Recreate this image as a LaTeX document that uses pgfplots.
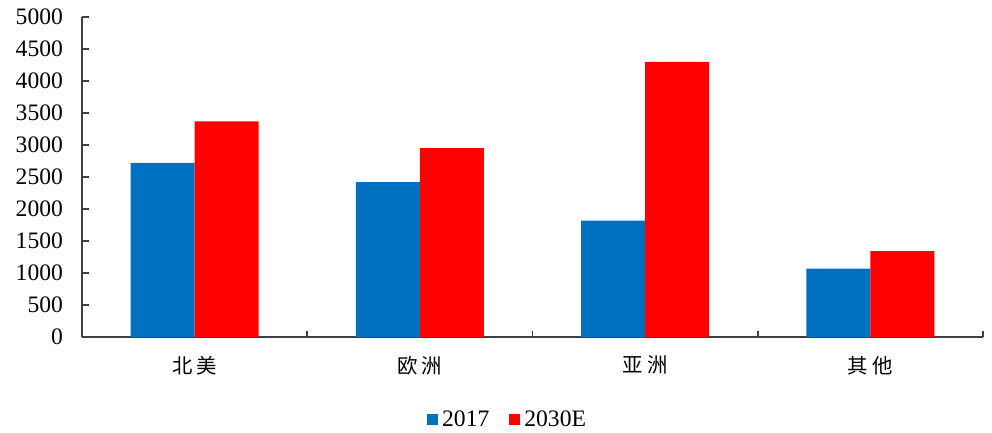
\documentclass[border=0pt]{standalone}
\usepackage{pgfplots}
\pgfplotsset{compat=1.18}
\usepackage{fontspec}
\setmainfont{Liberation Serif}
\newfontfamily\cjk{Noto Sans CJK SC}
\definecolor{cblue}{HTML}{0070C0}
\definecolor{cred}{HTML}{FF0000}
\definecolor{axgray}{HTML}{404040}
\begin{document}
\begin{tikzpicture}
\begin{axis}[
  name=ax,
  scale only axis, width=450.5pt, height=160pt,
  xmin=-0.5, xmax=3.5, ymin=0, ymax=5000,
  ybar=0pt, bar width=0.2844,
  axis x line=bottom, axis y line=left,
  axis line style={-, axgray, line width=0.8pt},
  ytick={0,500,...,5000},
  tick align=inside,
  y tick style={axgray, line width=0.8pt},
  major tick length=3.5pt,
  xtick={0,1,2,3},
  xticklabels={{\cjk 北\hspace{2pt}美},{\cjk 欧\hspace{2pt}洲},{\cjk 亚\hspace{2pt}洲},{\cjk 其\hspace{2pt}他}},
  major x tick style={draw=none},
  minor xtick={-0.5,0.5,1.5,2.5,3.5},
  minor x tick style={axgray, line width=0.8pt},
  minor tick length=3pt,
  /pgf/number format/assume math mode=true,
  /pgf/number format/1000 sep={},
  yticklabel style={font=\fontsize{11.8}{12}\selectfont, xshift=-6pt},
  xticklabel style={font=\fontsize{10.2}{11}\selectfont, yshift=-6pt},
  legend style={draw=none, at={(0.376,-0.259)}, anchor=west, font=\fontsize{11.8}{12}\selectfont,
    /tikz/every even column/.append style={column sep=8pt}},
  legend columns=2,
  legend image code/.code={\fill[#1] (0pt,-2.75pt) rectangle (5.5pt,2.75pt);},
  legend cell align=left,
]
\addplot[fill=cblue, draw=none] coordinates {(0,2720) (1,2420) (2,1820) (3,1070)};
\addplot[fill=cred, draw=none] coordinates {(0,3370) (1,2950) (2,4300) (3,1340)};
\legend{2017, 2030E}
\end{axis}
\pgfresetboundingbox
\useasboundingbox ([xshift=-41pt,yshift=-47.5pt]ax.south west) rectangle ([xshift=4.5pt,yshift=8.5pt]ax.north east);
\end{tikzpicture}
\end{document}
